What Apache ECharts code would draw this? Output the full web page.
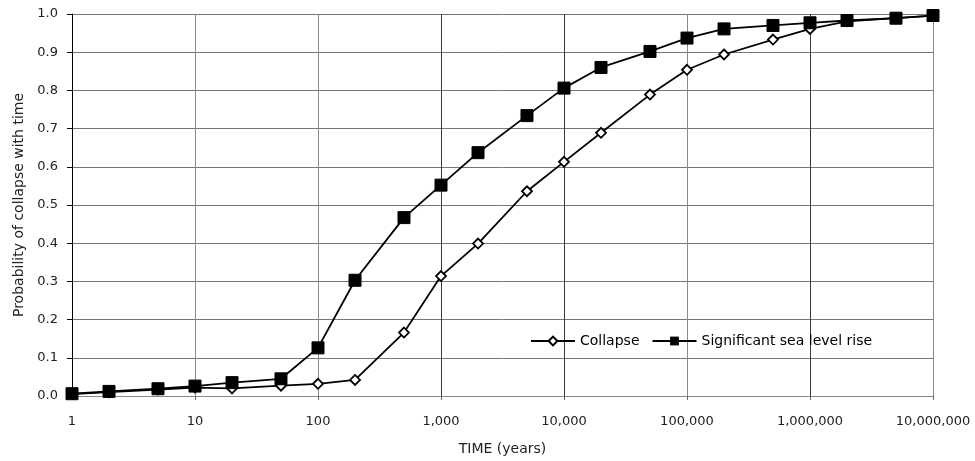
<!DOCTYPE html>
<html>
<head>
<meta charset="utf-8">
<script src="https://cdn.jsdelivr.net/npm/echarts@6/dist/echarts.min.js"></script>
<style>
  html, body { margin: 0; padding: 0; background: #fff; }
  #chart { width: 975px; height: 461px; }
</style>
</head>
<body>
<div id="chart"></div>
<script>
// Time in years (log scale)
var years = [1, 2, 5, 10, 20, 50, 100, 200, 500, 1000, 2000, 5000, 10000, 20000,
             50000, 100000, 200000, 500000, 1000000, 2000000, 5000000, 10000000];

// Probability of collapse
var collapse = [0.005, 0.010, 0.017, 0.022, 0.020, 0.027, 0.032, 0.042, 0.166, 0.314, 0.399,
                0.536, 0.613, 0.689, 0.789, 0.854, 0.894, 0.933, 0.961, 0.981, 0.989, 0.996];

// Probability of significant sea level rise
var seaLevelRise = [0.006, 0.012, 0.019, 0.026, 0.035, 0.045, 0.126, 0.303, 0.467, 0.552, 0.637,
                    0.734, 0.806, 0.860, 0.902, 0.937, 0.961, 0.970, 0.977, 0.983, 0.989, 0.996];

function pairs(xs, ys) {
  return xs.map(function (x, i) { return [x, ys[i]]; });
}

var font = 'DejaVu Sans, Liberation Sans, Arial, sans-serif';
var chart = echarts.init(document.getElementById('chart'), null, { renderer: 'canvas' });

chart.setOption({
  animation: false,
  backgroundColor: '#ffffff',
  textStyle: { fontFamily: font },
  grid: { left: 72, right: 42, top: 14, bottom: 64, containLabel: false },
  legend: {
    left: 525,
    top: 329,
    itemWidth: 44,
    itemHeight: 11,
    itemGap: 12,
    textStyle: { fontFamily: font, fontSize: 14, color: '#000' },
    data: ['Collapse', 'Significant sea level rise']
  },
  xAxis: {
    type: 'log',
    logBase: 10,
    min: 1,
    max: 10000000,
    name: 'TIME (years)',
    nameLocation: 'middle',
    nameGap: 46,
    nameTextStyle: { fontFamily: font, fontSize: 14, color: '#222' },
    axisLine: { show: true, lineStyle: { color: '#888', width: 1 } },
    axisTick: { show: true, length: 4, lineStyle: { color: '#666' } },
    minorTick: { show: false },
    axisLabel: {
      fontFamily: font, fontSize: 13, color: '#222', margin: 19,
      formatter: function (v) { return Math.round(v).toLocaleString('en-US'); }
    },
    splitLine: {
      show: true,
      lineStyle: {
        color: ['#888', '#8a8a8a', '#8a8a8a', '#3a3a3a', '#3a3a3a', '#8a8a8a', '#3a3a3a', '#8a8a8a'],
        width: 1
      }
    }
  },
  yAxis: {
    type: 'value',
    min: 0,
    max: 1,
    interval: 0.1,
    name: 'Probability of collapse with time',
    nameLocation: 'middle',
    nameGap: 44,
    nameRotate: 90,
    nameTextStyle: { fontFamily: font, fontSize: 14, color: '#222' },
    axisLine: { show: true, lineStyle: { color: '#000', width: 1 } },
    axisTick: { show: true, length: 5, lineStyle: { color: '#000' } },
    axisLabel: {
      fontFamily: font, fontSize: 13, color: '#222', margin: 14,
      formatter: function (v) { return v.toFixed(1); }
    },
    splitLine: { show: true, lineStyle: { color: '#767676', width: 1 } }
  },
  series: [
    {
      name: 'Collapse',
      type: 'line',
      data: pairs(years, collapse),
      symbol: 'diamond',
      symbolSize: 10,
      z: 2,
      lineStyle: { color: '#000', width: 1.8 },
      itemStyle: { color: '#fff', borderColor: '#000', borderWidth: 1.8 }
    },
    {
      name: 'Significant sea level rise',
      type: 'line',
      data: pairs(years, seaLevelRise),
      symbol: 'rect',
      symbolSize: 12,
      z: 3,
      lineStyle: { color: '#000', width: 1.8 },
      itemStyle: { color: '#000', borderColor: '#000' }
    }
  ]
});
</script>
</body>
</html>
